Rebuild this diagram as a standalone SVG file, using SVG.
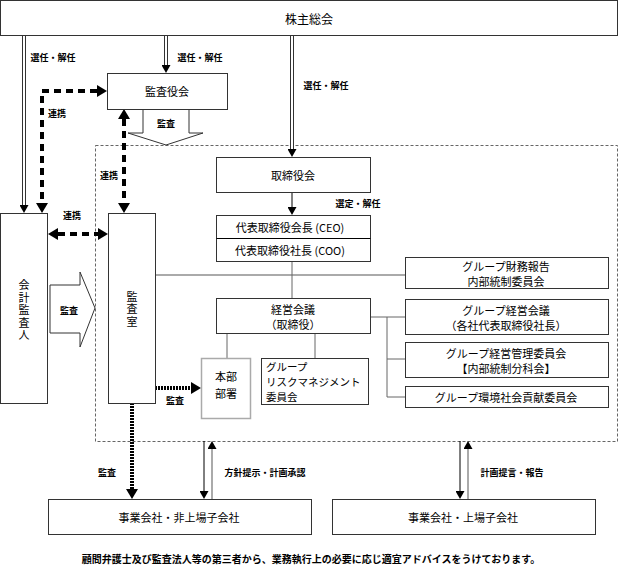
<svg xmlns="http://www.w3.org/2000/svg" width="621" height="565" viewBox="0 0 621 565">
<style>
text{font-family:"Noto Sans CJK JP","Liberation Sans",sans-serif;fill:#000;dominant-baseline:central}
.m{font-size:11px;text-anchor:middle}
.ml{font-size:10.5px}
.v{font-size:11px;text-anchor:middle;writing-mode:vertical-rl;letter-spacing:1.5px}
.s{font-size:9px;font-weight:bold;text-anchor:middle}
.box{fill:#fff;stroke:#333;stroke-width:1}
.gbox{fill:#fff;stroke:#aaa;stroke-width:1.5}
.thin{fill:none;stroke:#000;stroke-width:1}
.gray{fill:none;stroke:#aaa;stroke-width:2}
.dk{fill:none;stroke:#666;stroke-width:1}
.dblo{fill:none;stroke:#333;stroke-width:4}
.dbli{fill:none;stroke:#fff;stroke-width:2}
.tdash{fill:none;stroke:#000;stroke-width:4;stroke-dasharray:7 5}
.tdot{fill:none;stroke:#000;stroke-width:4;stroke-dasharray:2 1}
.barrow{fill:#fff;stroke:#333;stroke-width:1}
</style>
<defs>
<marker id="ah" markerUnits="userSpaceOnUse" markerWidth="9" markerHeight="9" refX="0" refY="4.5" orient="auto-start-reverse"><path d="M0,0 L8,4.5 L0,9 z" fill="#000"/></marker>
<marker id="ahb" markerUnits="userSpaceOnUse" markerWidth="11" markerHeight="12" refX="0" refY="6" orient="auto-start-reverse"><path d="M0,0 L10,6 L0,12 z" fill="#000"/></marker>
</defs>

<rect x="95.5" y="145.5" width="522" height="296" fill="none" stroke="#666" stroke-width="1" stroke-dasharray="3 2"/>

<g id="connectors">
<path class="dblo" d="M24,35 V205" marker-end="url(#ah)"/><path class="dbli" d="M24,35 V205"/>
<path class="dblo" d="M166,35 V65" marker-end="url(#ah)"/><path class="dbli" d="M166,35 V65"/>
<path class="dblo" d="M292,35 V149" marker-end="url(#ah)"/><path class="dbli" d="M292,35 V149"/>
<path class="tdash" d="M97,91 H42 V203" marker-start="url(#ahb)" marker-end="url(#ahb)"/>
<path class="tdash" d="M124,119 V203" marker-start="url(#ahb)" marker-end="url(#ahb)"/>
<path class="tdash" d="M58,234 H98" marker-start="url(#ahb)" marker-end="url(#ahb)"/>
<path class="thin" d="M292,192 V207" marker-end="url(#ah)"/>
<path class="gray" d="M155,275 H405"/>
<path class="dk" d="M292,261 V298"/>
<path class="dk" d="M370,317 H405 M387,317 V397 H405 M387,359 H405"/>
<path class="dk" d="M227,333 V358 M315,333 V358"/>
<path class="tdot" d="M155,388 H191" marker-end="url(#ahb)"/>
<path class="tdot" d="M132,403 V489" marker-end="url(#ahb)"/>
<path class="thin" d="M204,441 V491" marker-end="url(#ah)"/>
<path class="gray" d="M212,499 V449" marker-end="url(#ah)"/>
<path class="thin" d="M460,441 V491" marker-end="url(#ah)"/>
<path class="gray" d="M468,499 V449" marker-end="url(#ah)"/>
<polygon class="barrow" points="143,109 189,109 189,133 203,133 166,145 128,133 143,133"/>
<polygon class="barrow" points="50,285 80,285 80,272 95,308 80,347 80,333 50,333"/>
</g>

<g id="labels">
<text class="s" x="53" y="57">選任・解任</text>
<text class="s" x="200" y="57">選任・解任</text>
<text class="s" x="326" y="85">選任・解任</text>
<text class="s" x="166" y="123">監査</text>
<text class="s" x="57" y="113">連携</text>
<text class="s" x="109" y="175">連携</text>
<text class="s" x="72" y="215">連携</text>
<text class="s" x="69" y="310">監査</text>
<text class="s" x="358" y="203">選定・解任</text>
<text class="s" x="175" y="400">監査</text>
<text class="s" x="107" y="472">監査</text>
<text class="s" x="265" y="472">方針提示・計画承認</text>
<text class="s" x="512" y="472">計画提言・報告</text>
</g>

<g id="shareholders"><rect class="box" x="0.5" y="0.5" width="617" height="35"/><text class="m" x="309" y="18" style="font-size:12px">株主総会</text></g>
<g id="kansayakukai"><rect class="box" x="107.5" y="73.5" width="120" height="36"/><text class="m" x="167" y="91">監査役会</text></g>
<g id="kaikei"><rect class="box" x="0.5" y="213.5" width="47" height="190"/><text class="v" x="24" y="311">会計監査人</text></g>
<g id="kansashitsu"><rect class="box" x="108.5" y="213.5" width="47" height="190"/><text class="v" x="132" y="310">監査室</text></g>
<g id="torishimariyakukai"><rect class="box" x="216.5" y="157.5" width="154" height="35"/><text class="m" x="293" y="175">取締役会</text></g>
<g id="daihyo"><rect class="box" x="216.5" y="215.5" width="154" height="46"/><line class="thin" x1="216.5" y1="238.5" x2="370.5" y2="238.5" stroke="#333"/><text class="m" x="290" y="227">代表取締役会長 (CEO)</text><text class="m" x="290" y="250">代表取締役社長 (COO)</text></g>
<g id="zaimu"><rect class="box" x="405.5" y="257.5" width="203" height="31"/><text class="m" x="506" y="266">グループ財務報告</text><text class="m" x="506" y="281">内部統制委員会</text></g>
<g id="keiei"><rect class="box" x="216.5" y="298.5" width="154" height="35"/><text class="m" x="293" y="309">経営会議</text><text class="m" x="293" y="324">（取締役）</text></g>
<g id="group-keiei"><rect class="box" x="405.5" y="299.5" width="203" height="35"/><text class="m" x="506" y="310">グループ経営会議</text><text class="m" x="506" y="325">（各社代表取締役社長）</text></g>
<g id="group-kanri"><rect class="box" x="405.5" y="342.5" width="203" height="35"/><text class="m" x="506" y="353">グループ経営管理委員会</text><text class="m" x="506" y="368">【内部統制分科会】</text></g>
<g id="group-kankyo"><rect class="box" x="405.5" y="386.5" width="203" height="21"/><text class="m" x="506" y="397">グループ環境社会貢献委員会</text></g>
<g id="honbu"><rect class="gbox" x="201.5" y="358.5" width="49" height="60"/><text class="m" x="226" y="376">本部</text><text class="m" x="226" y="393">部署</text></g>
<g id="risk"><rect class="box" x="261.5" y="358.5" width="107" height="46"/><text class="ml" x="266" y="366">グループ</text><text class="ml" x="266" y="381.3">リスクマネジメント</text><text class="ml" x="266" y="396.6">委員会</text></g>
<g id="hijojo"><rect class="box" x="48.5" y="499.5" width="263" height="35"/><text class="m" x="179" y="517">事業会社・非上場子会社</text></g>
<g id="jojo"><rect class="box" x="332.5" y="499.5" width="263" height="35"/><text class="m" x="463" y="517">事業会社・上場子会社</text></g>
<text class="s" x="311" y="558" style="font-size:10px">顧問弁護士及び監査法人等の第三者から、業務執行上の必要に応じ適宜アドバイスをうけております。</text>
</svg>
